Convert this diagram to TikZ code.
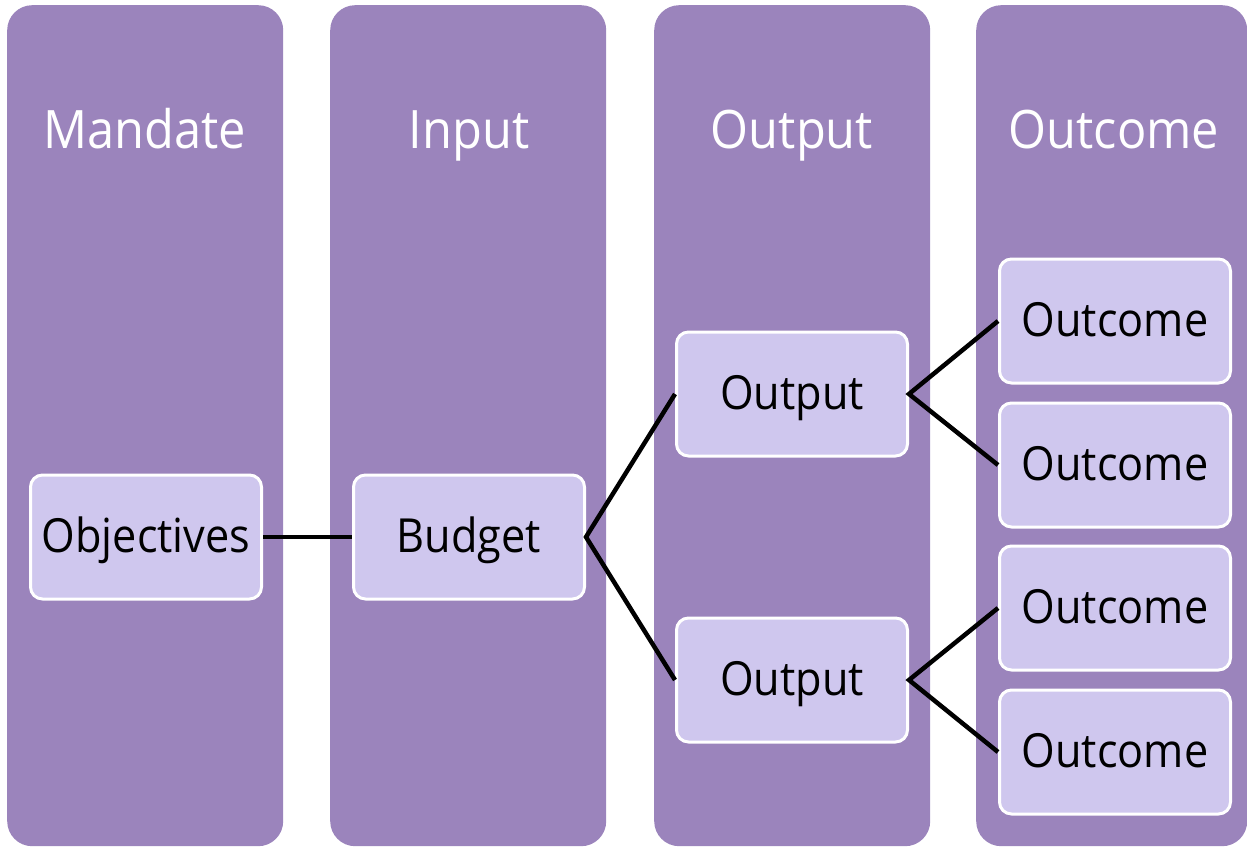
\documentclass[tikz,border=0pt]{standalone}
\usepackage{fontspec}
\setmainfont{Open Sans}[FakeStretch=0.92]
\definecolor{colfill}{HTML}{9B84BC}
\definecolor{boxfill}{HTML}{CFC7EE}
\begin{document}
\begin{tikzpicture}[x=1pt,y=-1pt,
  col/.style={fill=colfill, rounded corners=25pt, minimum width=276pt, minimum height=841pt, inner sep=0pt, anchor=north west},
  head/.style={text=white, font=\fontsize{53}{60}\selectfont, anchor=base, inner sep=0pt},
  item/.style={draw=white, line width=3pt, fill=boxfill, rounded corners=12pt, minimum width=231pt, minimum height=124pt, inner sep=0pt, text height=35pt, text depth=5pt, font=\fontsize{47}{55}\selectfont},
  link/.style={line width=4.5pt, draw=black}]
\useasboundingbox (0,0) rectangle (1247,846);
\node[col] (c1) at (7,5) {};
\node[col] (c2) at (330,5) {};
\node[col] (c3) at (654,5) {};
\node[col, minimum width=271pt] (c4) at (976,5) {};
\node[head] (h1) at (145,148) {Mandate};
\node[head] (h2) at (469,148) {Input};
\node[head] (h3) at (792,148) {Output};
\node[head] (h4) at (1114,148) {Outcome};
\node[item] (obj) at (146,537) {Objectives};
\node[item] (bud) at (469,537) {Budget};
\node[item] (out1) at (792,394) {Output};
\node[item] (out2) at (792,680) {Output};
\node[item] (oc1) at (1115,321) {Outcome};
\node[item] (oc2) at (1115,465) {Outcome};
\node[item] (oc3) at (1115,608) {Outcome};
\node[item] (oc4) at (1115,752) {Outcome};
\draw[link] (obj.east) -- (bud.west);
\draw[link] (out1.west) -- (bud.east) -- (out2.west);
\draw[link] (oc1.west) -- (out1.east) -- (oc2.west);
\draw[link] (oc3.west) -- (out2.east) -- (oc4.west);
\end{tikzpicture}
\end{document}
